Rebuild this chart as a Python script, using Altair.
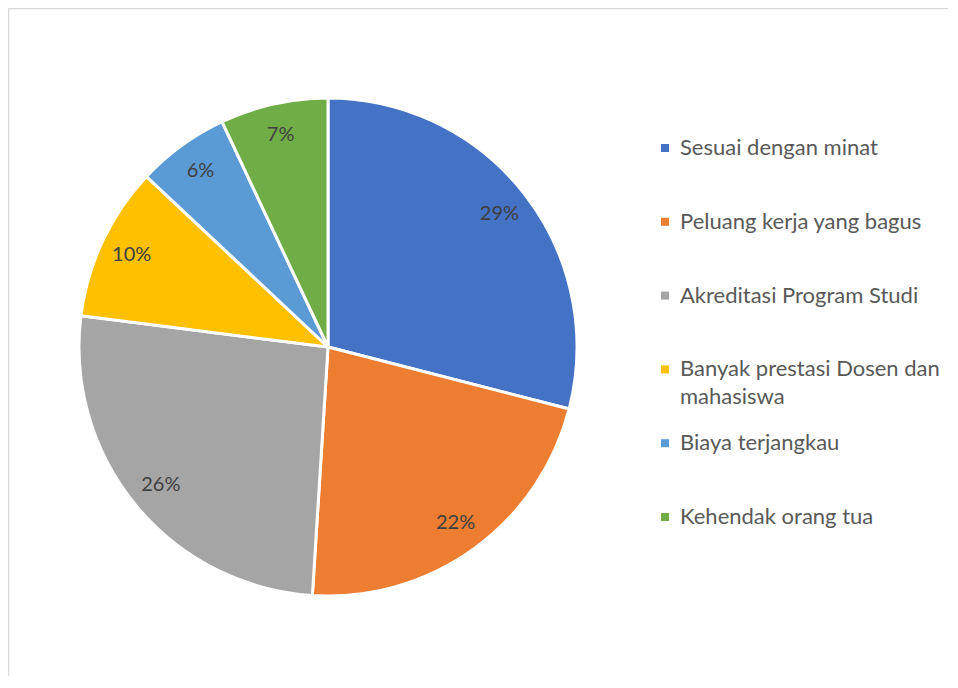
import altair as alt
import pandas as pd

categories = [
    "Sesuai dengan minat",
    "Peluang kerja yang bagus",
    "Akreditasi Program Studi",
    "Banyak prestasi Dosen dan mahasiswa",
    "Biaya terjangkau",
    "Kehendak orang tua",
]
legend_text = [
    "Sesuai dengan minat",
    "Peluang kerja yang bagus",
    "Akreditasi Program Studi",
    "Banyak prestasi Dosen dan\nmahasiswa",
    "Biaya terjangkau",
    "Kehendak orang tua",
]
values = [29, 22, 26, 10, 6, 7]
labels = ["29%", "22%", "26%", "10%", "6%", "7%"]
colors = ["#4472C4", "#ED7D31", "#A5A5A5", "#FFC000", "#5B9BD5", "#70AD47"]

df = pd.DataFrame({
    "cat": categories,
    "legend": legend_text,
    "value": values,
    "label": labels,
    "idx": list(range(len(categories))),
})

FONT = "Lato"
W, H = 940, 668
CX, CY = 320, 339

color = alt.Color("cat:N", scale=alt.Scale(domain=categories, range=colors), legend=None)

base = alt.Chart(df)

arcs = base.mark_arc(outerRadius=249, stroke="white", strokeWidth=3).encode(
    theta=alt.Theta("value:Q", stack=True),
    order=alt.Order("idx:Q"),
    color=color,
    x=alt.value(CX),
    y=alt.value(CY),
)

pct = base.mark_text(radius=217, fontSize=20, font=FONT, color="#404040").encode(
    theta=alt.Theta("value:Q", stack=True),
    order=alt.Order("idx:Q"),
    text="label:N",
    x=alt.value(CX),
    y=alt.value(CY),
)

ypos = alt.Y("cat:N", sort=categories, scale=alt.Scale(type="point", range=[140, 509], padding=0), axis=None)

squares = base.mark_square(size=64, opacity=1).encode(
    x=alt.value(657),
    y=ypos,
    color=color,
)

leg_text = base.mark_text(
    align="left", baseline="top", dy=-10, fontSize=22, font=FONT,
    color="#595959", lineBreak="\n", lineHeight=28,
).encode(
    x=alt.value(672),
    y=ypos,
    text="legend:N",
)

frame_df = pd.DataFrame({"k": [0]})
frame_top = alt.Chart(frame_df).mark_rule(color="#d9d9d9", strokeWidth=1.5).encode(
    x=alt.value(0), x2=alt.value(W), y=alt.value(0.5)
)
frame_left = alt.Chart(frame_df).mark_rule(color="#d9d9d9", strokeWidth=1.5).encode(
    x=alt.value(0.5), y=alt.value(0), y2=alt.value(H)
)

chart = alt.layer(frame_top, frame_left, arcs, pct, squares, leg_text).properties(
    width=W, height=H,
    autosize=alt.AutoSizeParams(type="none"),
    padding=0,
).configure_view(stroke=None).configure(background="white")

chart.save("out.html", embed_options={"renderer": "svg", "actions": False})
